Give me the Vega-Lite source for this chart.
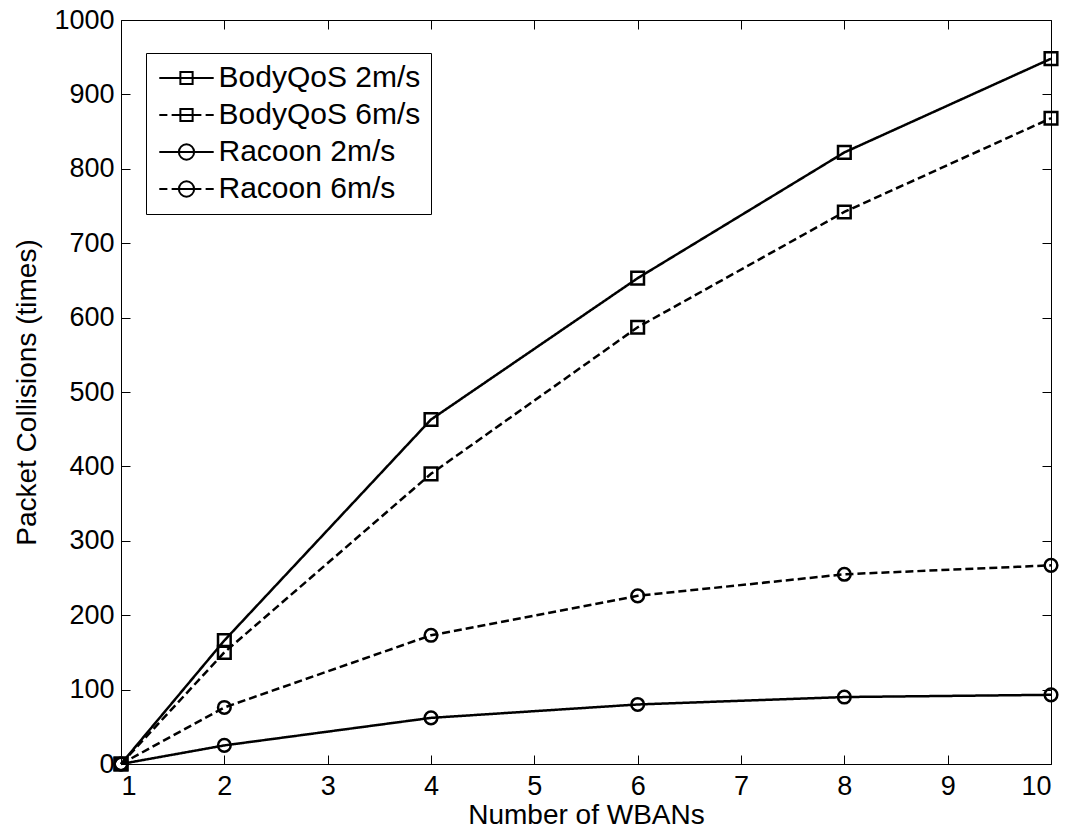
{
  "$schema": "https://vega.github.io/schema/vega-lite/v6.json",
  "width": 930,
  "height": 744,
  "autosize": {"type": "none"},
  "padding": {"left": 121, "top": 20, "right": 20, "bottom": 70},
  "background": "white",
  "config": {
    "font": "Liberation Sans",
    "view": {"stroke": "black", "strokeWidth": 1},
    "axis": {"grid": false, "domain": false, "tickColor": "black", "tickWidth": 1, "labelColor": "black", "titleColor": "black", "labelFont": "Liberation Sans", "titleFont": "Liberation Sans", "titleFontWeight": "normal"}
  },
  "data": {"values": [
    {"series": "BodyQoS 2m/s", "n": 1, "c": 0},
    {"series": "BodyQoS 2m/s", "n": 2, "c": 166},
    {"series": "BodyQoS 2m/s", "n": 4, "c": 463},
    {"series": "BodyQoS 2m/s", "n": 6, "c": 653},
    {"series": "BodyQoS 2m/s", "n": 8, "c": 822},
    {"series": "BodyQoS 2m/s", "n": 10, "c": 948},
    {"series": "BodyQoS 6m/s", "n": 1, "c": 0},
    {"series": "BodyQoS 6m/s", "n": 2, "c": 150},
    {"series": "BodyQoS 6m/s", "n": 4, "c": 390},
    {"series": "BodyQoS 6m/s", "n": 6, "c": 587},
    {"series": "BodyQoS 6m/s", "n": 8, "c": 742},
    {"series": "BodyQoS 6m/s", "n": 10, "c": 868},
    {"series": "Racoon 2m/s", "n": 1, "c": 0},
    {"series": "Racoon 2m/s", "n": 2, "c": 25},
    {"series": "Racoon 2m/s", "n": 4, "c": 62},
    {"series": "Racoon 2m/s", "n": 6, "c": 80},
    {"series": "Racoon 2m/s", "n": 8, "c": 90},
    {"series": "Racoon 2m/s", "n": 10, "c": 93},
    {"series": "Racoon 6m/s", "n": 1, "c": 0},
    {"series": "Racoon 6m/s", "n": 2, "c": 76},
    {"series": "Racoon 6m/s", "n": 4, "c": 173},
    {"series": "Racoon 6m/s", "n": 6, "c": 226},
    {"series": "Racoon 6m/s", "n": 8, "c": 255},
    {"series": "Racoon 6m/s", "n": 10, "c": 267}
  ]},
  "layer": [
    {
      "mark": {"type": "line", "color": "black", "strokeWidth": 2.5},
      "encoding": {
        "x": {"field": "n", "type": "quantitative", "scale": {"domain": [1, 10], "nice": false, "zero": false},
          "axis": {"orient": "bottom", "values": [1,2,3,4,5,6,7,8,9,10], "tickSize": -9, "labelPadding": 18, "labelFontSize": 27, "title": "Number of WBANs", "titleFontSize": 28, "titlePadding": 2}},
        "y": {"field": "c", "type": "quantitative", "scale": {"domain": [0, 1000], "nice": false},
          "axis": {"orient": "left", "values": [0,100,200,300,400,500,600,700,800,900,1000], "format": "d", "tickSize": -9, "labelPadding": 16, "labelFontSize": 27, "title": "Packet Collisions (times)", "titleFontSize": 28, "titlePadding": 12}},
        "strokeDash": {"field": "series", "type": "nominal",
          "scale": {"domain": ["BodyQoS 2m/s", "BodyQoS 6m/s", "Racoon 2m/s", "Racoon 6m/s"], "range": [[1, 0], [8, 4], [1, 0], [8, 4]]},
          "legend": null}
      }
    },
    {
      "mark": {"type": "point", "filled": false, "color": "black", "strokeWidth": 2.5, "opacity": 1},
      "encoding": {
        "x": {"field": "n", "type": "quantitative",
          "axis": {"orient": "top", "values": [1,2,3,4,5,6,7,8,9,10], "tickSize": -9, "labels": false, "title": null}},
        "y": {"field": "c", "type": "quantitative",
          "axis": {"orient": "right", "values": [0,100,200,300,400,500,600,700,800,900,1000], "tickSize": -9, "labels": false, "title": null}},
        "shape": {"field": "series", "type": "nominal",
          "scale": {"domain": ["BodyQoS 2m/s", "BodyQoS 6m/s", "Racoon 2m/s", "Racoon 6m/s"], "range": ["square", "square", "circle", "circle"]},
          "legend": null},
        "size": {"field": "series", "type": "nominal",
          "scale": {"domain": ["BodyQoS 2m/s", "BodyQoS 6m/s", "Racoon 2m/s", "Racoon 6m/s"], "range": [160, 160, 200, 200]},
          "legend": null}
      }
    },
    {
      "transform": [{"filter": "datum.n < 0"}],
      "mark": {"type": "point", "filled": false, "color": "black", "strokeWidth": 2, "opacity": 1},
      "encoding": {
        "shape": {"field": "series", "type": "nominal",
          "scale": {"domain": ["BodyQoS 2m/s", "BodyQoS 6m/s", "Racoon 2m/s", "Racoon 6m/s"],
            "range": [
              "M-3.2,0L3.2,0M-0.72,-0.72L0.72,-0.72L0.72,0.72L-0.72,0.72Z",
              "M-3.2,0L-2.25,0M-1.75,0L1.75,0M2.25,0L3.2,0M-0.72,-0.72L0.72,-0.72L0.72,0.72L-0.72,0.72Z",
              "M-3.2,0L3.2,0M-0.9,0A0.9,0.9,0,1,0,0.9,0A0.9,0.9,0,1,0,-0.9,0Z",
              "M-3.2,0L-2.25,0M-1.75,0L1.75,0M2.25,0L3.2,0M-0.9,0A0.9,0.9,0,1,0,0.9,0A0.9,0.9,0,1,0,-0.9,0Z"
            ]},
          "legend": {
            "title": null, "orient": "none", "legendX": 25, "legendY": 33,
            "padding": 10, "fillColor": "white", "strokeColor": "black", "cornerRadius": 0,
            "labelFontSize": 30, "labelColor": "black", "labelFont": "Liberation Sans", "labelLimit": 400,
            "symbolSize": 289, "symbolOffset": 15.5, "labelOffset": 17, "rowPadding": 7,
            "symbolStrokeWidth": 2, "symbolStrokeColor": "black", "symbolFillColor": "transparent",
            "encode": {"legend": {"update": {"strokeWidth": {"value": 1}}}}
          }}
      }
    }
  ],
  "resolve": {"axis": {"x": "independent", "y": "independent"}, "scale": {"shape": "independent"}}
}
